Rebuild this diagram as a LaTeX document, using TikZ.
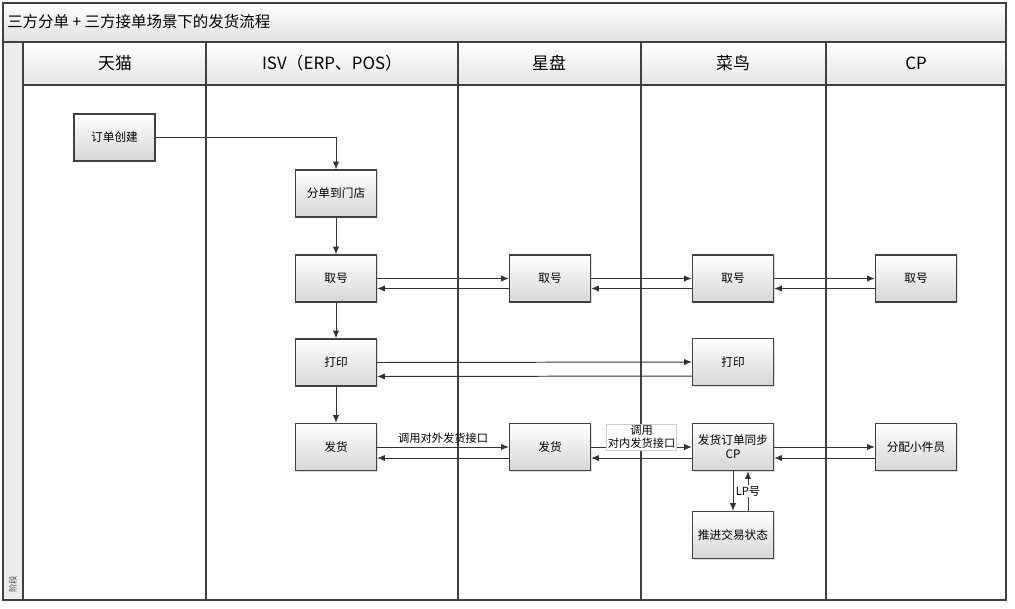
\documentclass[tikz,border=0pt]{standalone}
\usepackage{fontspec}
\setmainfont{Noto Sans CJK SC}
\usetikzlibrary{arrows.meta,shadows}

\begin{document}
\begin{tikzpicture}[x=0.025cm, y=-0.025cm,
  task/.style={draw=black!75, line width=0.9pt, top color=white, bottom color=black!16,
    minimum width=2.025cm, minimum height=1.175cm, inner sep=1pt, align=center,
    font=\fontsize{8.3}{10}\selectfont,
    drop shadow={shadow xshift=0.8pt, shadow yshift=-0.8pt, opacity=0.25}},
  flow/.style={->, >={Latex[length=5.5pt,width=4.5pt]}, draw=black!80, line width=0.7pt},
  lane/.style={font=\fontsize{12}{14}\selectfont},
  lbl/.style={font=\fontsize{8}{9.5}\selectfont, inner sep=1pt},
  divider/.style={draw=black!75, line width=0.9pt}]
\useasboundingbox (0,0) rectangle (1015,608);
% frame
\shade[top color=white, bottom color=black!12] (3,3) rectangle (1006,42);
\shade[top color=white, bottom color=black!10] (23,42) rectangle (1006,85);
\fill[black!7] (3,42) rectangle (23,600);
\draw[divider] (3,42) -- (1006,42);
\draw[divider] (23,85) -- (1006,85);
\draw[divider] (23,42) -- (23,600);
\foreach \x in {206,458,641,826}
  \draw[divider] (\x,42) -- (\x,600);
\draw[draw=black!75, line width=1pt] (3,3) rectangle (1006,600);
\node[anchor=west, font=\fontsize{11}{13}\selectfont, inner sep=0pt] (title) at (7,22) {三方分单 + 三方接单场景下的发货流程};
\node[rotate=90, font=\fontsize{6}{7}\selectfont, text=black!70, inner sep=0pt] (stage) at (13,584) {阶段};
% lanes
\node[lane] (tmall) at (115,63) {天猫};
\node[lane] (isv) at (332,63) {ISV（ERP、POS）};
\node[lane] (xp) at (549,63) {星盘};
\node[lane] (cn) at (733,63) {菜鸟};
\node[lane] (cp) at (916,63) {CP};
% steps
\node[task] (create) at (114.5,137.5) {订单创建};
\node[task] (split) at (336,193.5) {分单到门店};
\node[task] (isvno) at (336,278.5) {取号};
\node[task] (isvprint) at (336,362.5) {打印};
\node[task] (isvship) at (336,447) {发货};
\node[task] (xpno) at (550,278.5) {取号};
\node[task] (xpship) at (550,447) {发货};
\node[task] (cnno) at (733,278.5) {取号};
\node[task] (cnprint) at (733,362) {打印};
\node[task] (cnsync) at (733,447) {发货订单同步\\CP};
\node[task] (cnpush) at (733,535) {推进交易状态};
\node[task] (cpno) at (916,278.5) {取号};
\node[task] (cpassign) at (916,447) {分配小件员};
% flows
\draw[flow] (create.east) -| (split.north);
\draw[flow] (split) -- (isvno);
\draw[flow] (isvno) -- (isvprint);
\draw[flow] (isvprint) -- (isvship);
\draw[flow] (isvno.east) -- (xpno.west);
\draw[flow] ([yshift=-2.5mm]xpno.west) -- ([yshift=-2.5mm]isvno.east);
\draw[flow] (xpno.east) -- (cnno.west);
\draw[flow] ([yshift=-2.5mm]cnno.west) -- ([yshift=-2.5mm]xpno.east);
\draw[flow] (cnno.east) -- (cpno.west);
\draw[flow] ([yshift=-2.5mm]cpno.west) -- ([yshift=-2.5mm]cnno.east);
\draw[flow] (isvprint.east) -- (cnprint.west);
\draw[flow] ([yshift=-3.5mm]cnprint.west) -- ([yshift=-3.5mm]isvprint.east);
\draw[flow] (isvship.east) -- (xpship.west) node[lbl, midway, above=1pt] {调用对外发货接口};
\draw[flow] ([yshift=-2.75mm]xpship.west) -- ([yshift=-2.75mm]isvship.east);
\draw[flow] (xpship.east) -- (cnsync.west) node[lbl, midway, yshift=2.5mm, fill=white, draw=black!20, line width=0.3pt, align=center] {调用\\对内发货接口};
\draw[flow] ([yshift=-2.75mm]cnsync.west) -- ([yshift=-2.75mm]xpship.east);
\draw[flow] (cnsync.east) -- (cpassign.west);
\draw[flow] ([yshift=-2.75mm]cpassign.west) -- ([yshift=-2.75mm]cnsync.east);
\draw[flow] (cnsync) -- (cnpush);
\draw[flow] ([xshift=3.75mm]cnpush.north) -- ([xshift=3.75mm]cnsync.south) node[lbl, midway, fill=white] {LP号};
\end{tikzpicture}
\end{document}
